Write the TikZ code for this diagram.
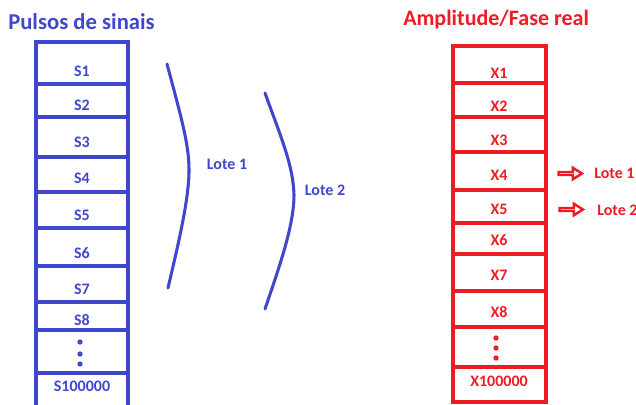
\documentclass[tikz,border=0pt]{standalone}
\usepackage{fontspec}
\setmainfont{Carlito}
\usetikzlibrary{shapes.arrows}
\definecolor{pblue}{RGB}{63,72,204}
\definecolor{pred}{RGB}{237,28,36}
\begin{document}
\begin{tikzpicture}[x=0.75pt,y=-0.75pt,
  colline/.style={line width=2.3pt, line cap=butt, line join=miter},
  lbl/.style={font=\fontsize{12}{14}\selectfont\bfseries, inner sep=0pt},
  ttl/.style={font=\fontsize{17}{20}\selectfont\bfseries, inner sep=0pt, anchor=base west},
  lote/.style={line width=2.3pt, pblue, line cap=round},
  blockarrow/.style={single arrow, draw=pred, fill=white, line width=1.8pt,
    minimum height=17.6pt, minimum width=8.6pt, single arrow head extend=2.45pt,
    single arrow tip angle=65, inner sep=0pt, anchor=center},
  dot/.style={circle, inner sep=0pt, minimum size=4pt}
]
\useasboundingbox (0,0) rectangle (636,404);

% ---- titles
\node[ttl, text=pblue] (t1) at (8,29) {Pulsos de sinais};
\node[ttl, text=pred, font=\fontsize{16.5}{20}\selectfont\bfseries] (t2) at (403,25) {Amplitude/Fase real};

% ---- left column
\draw[colline, pblue] (36,405) -- (36,42) -- (128,42) -- (128,405);
\foreach \y in {84,117,157,192,228,266,302,330,373}
  \draw[colline, pblue] (36,\y) -- (128,\y);
\foreach \t/\y [count=\i] in {S1/71,S2/105,S3/142,S4/178,S5/215,S6/253,S7/289,S8/320,S100000/386}
  \node[lbl, text=pblue] (s\i) at (82,\y) {\t};
\foreach \y [count=\i] in {342,354,364}
  \node[dot, fill=pblue] (sd\i) at (80,\y) {};

% ---- right column
\draw[colline, pred] (453,46) rectangle (546,402);
\foreach \y in {83,117,152,190,223,254,291,327,367}
  \draw[colline, pred] (453,\y) -- (546,\y);
\foreach \t/\y [count=\i] in {X1/73,X2/106,X3/140,X4/175,X5/209,X6/240,X7/275,X8/312,X100000/381}
  \node[lbl, text=pred] (x\i) at (499,\y) {\t};
\foreach \y [count=\i] in {338,348,358}
  \node[dot, fill=pred] (xd\i) at (496,\y) {};

% ---- batch curves
\draw[lote] (167,64) .. controls (182,120) and (189,145) .. (189,170)
  .. controls (189,200) and (178,245) .. (168,288);
\draw[lote] (265,93) .. controls (282,140) and (293,165) .. (294,195)
  .. controls (294,225) and (280,265) .. (265,309);
\node[lbl, text=pblue] (l1) at (227,164) {Lote 1};
\node[lbl, text=pblue] (l2) at (325,190) {Lote 2};

% ---- right arrows
\node[blockarrow] (a1) at (569,173.5) {};
\node[blockarrow] (a2) at (570,209.5) {};
\node[lbl, text=pred, anchor=west] (r1) at (594,173) {Lote 1};
\node[lbl, text=pred, anchor=west] (r2) at (597,210) {Lote 2};
\end{tikzpicture}
\end{document}
